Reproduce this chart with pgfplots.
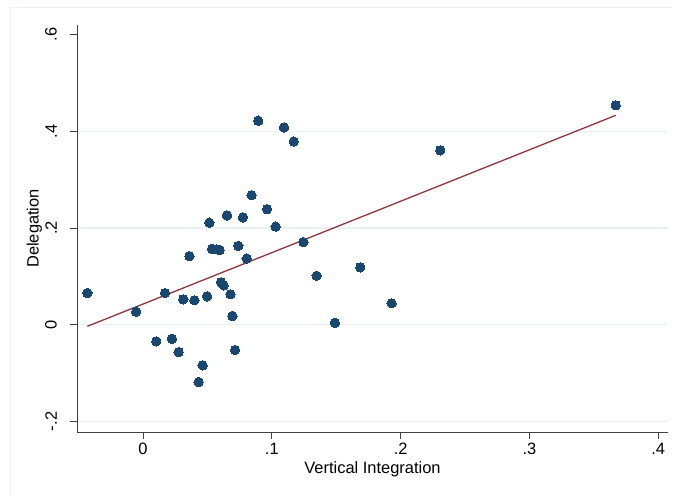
\documentclass[border=0pt]{standalone}
\usepackage{pgfplots}
\pgfplotsset{compat=1.18}
\usepackage{fontspec}
\setmainfont{Liberation Sans}
\definecolor{statanavy}{RGB}{26,71,111}
\definecolor{statamaroon}{RGB}{144,53,59}
\definecolor{gridc}{RGB}{234,240,241}
\definecolor{framec}{RGB}{236,242,243}
\newcommand{\lblfont}{\fontsize{16.5}{18}\selectfont}

\begin{document}
\begin{tikzpicture}[x=1bp,y=1bp]
\useasboundingbox (0,0) rectangle (673,495);
\fill[white] (0,0) rectangle (673,495);
% graph region outline
\draw[framec, line width=1bp] (10,0) -- (10,487) -- (673,487);
\begin{axis}[
  at={(77bp,63bp)}, anchor=south west,
  scale only axis, width=591bp, height=407bp,
  xmin=-0.05124, xmax=0.4076, ymin=-0.2219, ymax=0.6199,
  axis x line*=bottom, axis y line*=left,
  axis line style={black!75, line width=0.9bp, -},
  tick align=outside, major tick length=7bp,
  tick style={black!75, line width=0.9bp},
  xtick={0,0.1,0.2,0.3,0.4}, xticklabels={0,.1,.2,.3,.4},
  ytick={-0.2,0,0.2,0.4}, yticklabels={-.2,0,.2,.4},
  extra y ticks={0.6}, extra y tick labels={.6},
  extra y tick style={ymajorgrids=false},
  ymajorgrids, major grid style={gridc, line width=1.3bp},
  ticklabel style={font=\lblfont},
  yticklabel style={rotate=90, anchor=south, inner sep=0pt},
  yticklabel shift=13bp,
  xticklabel style={anchor=north, inner sep=0pt},
  xticklabel shift=4bp,
  xlabel={Vertical Integration}, ylabel={Delegation},
  label style={font=\lblfont, inner sep=0pt},
  xlabel style={at={(axis description cs:0.5,0)}, anchor=north, yshift=-29bp},
  ylabel style={at={(axis description cs:-0.059,0.5)}, anchor=south, rotate=0},
  clip=false,
]
\addplot[only marks, mark=*, mark size=4.7bp,
  mark options={fill=statanavy, draw=statanavy, line width=0pt}]
coordinates {
(-0.0432,0.0656) (-0.0054,0.0269) (0.0103,-0.0344) (0.0171,0.0656)
(0.0225,-0.0290) (0.0277,-0.0565) (0.0313,0.0525) (0.0360,0.1420)
(0.0399,0.0505) (0.0432,-0.1185) (0.0463,-0.0840) (0.0497,0.0587)
(0.0515,0.2110) (0.0536,0.1570) (0.0570,0.1560) (0.0595,0.1545)
(0.0606,0.0877) (0.0626,0.0815) (0.0652,0.2260) (0.0679,0.0629)
(0.0694,0.0180) (0.0715,-0.0523) (0.0740,0.1630) (0.0776,0.2220)
(0.0805,0.1370) (0.0843,0.2680) (0.0895,0.4220) (0.0963,0.2390)
(0.1030,0.2030) (0.1095,0.4080) (0.1170,0.3790) (0.1245,0.1710)
(0.1348,0.1013) (0.1490,0.0040) (0.1687,0.1187) (0.1930,0.0443)
(0.2308,0.3607) (0.3670,0.4538)
};
% linear fit
\addplot[statamaroon, line width=1.3bp] coordinates {(-0.0432,-0.0033) (0.3670,0.4330)};
\end{axis}
\end{tikzpicture}
\end{document}
